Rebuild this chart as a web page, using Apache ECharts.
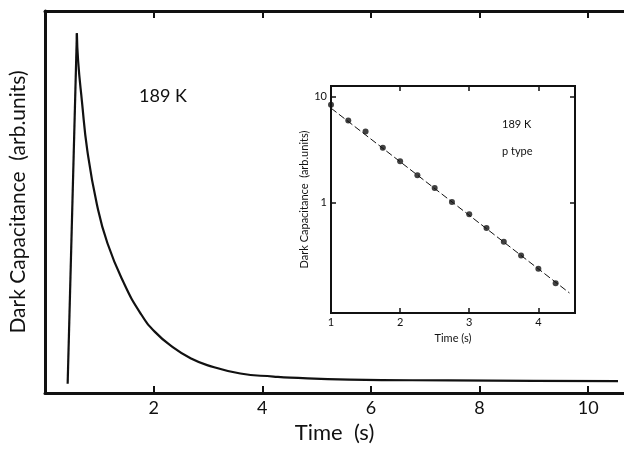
<!DOCTYPE html>
<html>
<head>
<meta charset="utf-8">
<script src="https://cdn.jsdelivr.net/npm/echarts@6/dist/echarts.min.js"></script>
<style>
html,body{margin:0;padding:0;background:#fff;}
#chart{width:624px;height:451px;}
</style>
</head>
<body>
<div id="chart"></div>
<script>
// Main transient (arbitrary units, 0 = baseline)
var riseTime    = [0.417, 0.587];
var riseSignal  = [2.4, 94.2];
var decayTime   = [0.587, 0.61, 0.679, 0.78, 0.954, 1.15, 1.455, 1.761, 2.024, 2.372, 2.679, 2.985, 3.596, 4.207, 4.514, 5.6, 7.45, 9.0, 10.55];
var decaySignal = [94.2, 86.9, 76.5, 63.4, 49.5, 39.2, 28.7, 20.8, 16.0, 11.8, 9.1, 7.3, 5.1, 4.3, 4.0, 3.5, 3.3, 3.2, 3.1];
var mainTicks   = [2, 4, 6, 8, 10];

// Inset: semilog plot
var insetTime = [1.0, 1.25, 1.5, 1.75, 2.0, 2.25, 2.5, 2.75, 3.0, 3.25, 3.5, 3.75, 4.0, 4.25];
var insetCap  = [8.4, 5.95, 4.7, 3.3, 2.47, 1.82, 1.38, 1.02, 0.78, 0.58, 0.43, 0.32, 0.24, 0.175];
var fitTime   = [1.0, 4.45];
var fitCap    = [7.8, 0.142];
var insetXTicks = [1, 2, 3, 4];
var insetYTicks = [1, 10];

function pairs(xs, ys){ return xs.map(function(x,i){ return [x, ys[i]]; }); }

var ink = '#111';
var font = 'Lato, "DejaVu Sans", sans-serif';

var chart = echarts.init(document.getElementById('chart'));
chart.setOption({
  animation: false,
  backgroundColor: '#fff',
  grid: [
    {left: 43, top: 11, right: 0, bottom: 58, containLabel: false},
    {left: 331, top: 86, width: 244, height: 227, show: true, borderColor: ink, borderWidth: 2, backgroundColor: '#fff'}
  ],
  xAxis: [
    {gridIndex: 0, type: 'value', min: 0, max: 10.66, interval: 2, position: 'bottom',
     name: 'Time  (s)', nameLocation: 'middle', nameGap: 28,
     nameTextStyle: {fontFamily: font, fontSize: 22, color: ink},
     axisLine: {show: true, onZero: false, lineStyle: {color: ink, width: 3}},
     axisTick: {show: true, inside: true, length: 7, lineStyle: {color: ink, width: 2}, customValues: mainTicks},
     axisLabel: {show: true, fontFamily: font, fontSize: 18, color: ink, margin: 6, customValues: mainTicks},
     splitLine: {show: false}},
    {gridIndex: 0, type: 'value', min: 0, max: 10.66, interval: 2, position: 'top',
     axisLine: {show: true, onZero: false, lineStyle: {color: ink, width: 3}},
     axisTick: {show: true, inside: true, length: 7, lineStyle: {color: ink, width: 2}, customValues: mainTicks},
     axisLabel: {show: false}, splitLine: {show: false}},
    {gridIndex: 1, type: 'value', min: 1, max: 4.53, interval: 1, position: 'bottom',
     name: 'Time (s)', nameLocation: 'middle', nameGap: 17,
     nameTextStyle: {fontFamily: font, fontSize: 11, color: ink},
     axisLine: {show: false},
     axisTick: {show: true, inside: true, length: 5, lineStyle: {color: ink, width: 1.5}, customValues: insetXTicks},
     axisLabel: {show: true, fontFamily: font, fontSize: 11, color: ink, margin: 4, customValues: insetXTicks},
     splitLine: {show: false}},
    {gridIndex: 1, type: 'value', min: 1, max: 4.53, interval: 1, position: 'top',
     axisLine: {show: false},
     axisTick: {show: true, inside: true, length: 5, lineStyle: {color: ink, width: 1.5}, customValues: insetXTicks},
     axisLabel: {show: false}, splitLine: {show: false}}
  ],
  yAxis: [
    {gridIndex: 0, type: 'value', min: 0, max: 100, position: 'left',
     name: 'Dark Capacitance  (arb.units)', nameLocation: 'middle', nameGap: 16, nameRotate: 90,
     nameTextStyle: {fontFamily: font, fontSize: 21, color: ink},
     axisLine: {show: true, onZero: false, lineStyle: {color: ink, width: 3}},
     axisTick: {show: false}, axisLabel: {show: false}, splitLine: {show: false}},
    {gridIndex: 1, type: 'log', logBase: 10, min: 0.092, max: 12.6, position: 'left',
     name: 'Dark Capacitance  (arb.units)', nameLocation: 'middle', nameGap: 18, nameRotate: 90,
     nameTextStyle: {fontFamily: font, fontSize: 11, color: ink},
     axisLine: {show: false},
     axisTick: {show: true, inside: true, length: 5, lineStyle: {color: ink, width: 1.5}, customValues: insetYTicks},
     axisLabel: {show: true, fontFamily: font, fontSize: 11, color: ink, margin: 4, customValues: insetYTicks},
     splitLine: {show: false}, minorTick: {show: false}},
    {gridIndex: 1, type: 'log', logBase: 10, min: 0.092, max: 12.6, position: 'right',
     axisLine: {show: false},
     axisTick: {show: true, inside: true, length: 5, lineStyle: {color: ink, width: 1.5}, customValues: insetYTicks},
     axisLabel: {show: false}, splitLine: {show: false}}
  ],
  series: [
    {type: 'line', xAxisIndex: 0, yAxisIndex: 0, data: pairs(riseTime, riseSignal),
     showSymbol: false, smooth: false,
     lineStyle: {color: ink, width: 2.2}, z: 1},
    {type: 'line', xAxisIndex: 0, yAxisIndex: 0, data: pairs(decayTime, decaySignal),
     showSymbol: false, smooth: 0.5,
     lineStyle: {color: ink, width: 2.2}, z: 1},
    {type: 'line', xAxisIndex: 2, yAxisIndex: 1, data: pairs(fitTime, fitCap),
     showSymbol: false, lineStyle: {color: ink, width: 1, type: [7, 3]}, z: 5},
    {type: 'scatter', xAxisIndex: 2, yAxisIndex: 1, data: pairs(insetTime, insetCap),
     symbol: 'circle', symbolSize: 6, itemStyle: {color: ink}, clip: false, z: 6}
  ],
  graphic: [
    {type: 'text', left: 139, top: 87, z: 10,
     style: {text: '189 K', fontFamily: font, fontSize: 18, fill: ink}},
    {type: 'text', left: 502, top: 119, z: 10,
     style: {text: '189 K', fontFamily: font, fontSize: 11, fill: ink}},
    {type: 'text', left: 502, top: 146, z: 10,
     style: {text: 'p type', fontFamily: font, fontSize: 11, fill: ink}}
  ]
});
</script>
</body>
</html>
